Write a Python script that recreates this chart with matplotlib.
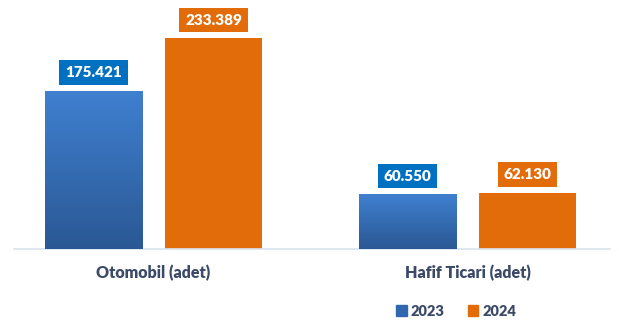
import numpy as np
import matplotlib
matplotlib.use('Agg')
import matplotlib.pyplot as plt
from matplotlib.colors import LinearSegmentedColormap
from matplotlib.patches import Patch

# data
categories = ['Otomobil (adet)', 'Hafif Ticari (adet)']
series = ['2023', '2024']
values_2023 = [175421, 60550]
values_2024 = [233389, 62130]
labels_2023 = ['175.421', '60.550']
labels_2024 = ['233.389', '62.130']

blue_top = '#3f80d0'
blue_bot = '#2b5894'
orange = '#e36c0a'
box_blue = '#0070c0'
text_col = '#3b4a68'

plt.rcParams['font.family'] = ['Lato', 'DejaVu Sans']

fig = plt.figure(figsize=(6.19, 3.25), dpi=100)
ax = fig.add_axes([14 / 619, 76 / 325, 596 / 619, 249 / 325])

x = np.arange(len(categories))
w = 0.309
off = 0.191

b1 = ax.bar(x - off, values_2023, w, color=blue_top, zorder=2)
b2 = ax.bar(x + off, values_2024, w, color=orange, zorder=2)

# gradient fill for the 2023 bars
cmap = LinearSegmentedColormap.from_list('bl', [blue_bot, blue_top])
grad = np.linspace(0, 1, 256).reshape(-1, 1)
for p in b1:
    x0, y0 = p.get_x(), p.get_y()
    im = ax.imshow(grad, extent=[x0, x0 + p.get_width(), y0, y0 + p.get_height()],
                   origin='lower', aspect='auto', cmap=cmap, zorder=3)
    im.set_clip_path(p)

def label(bars, texts, fc):
    for p, t in zip(bars, texts):
        ax.annotate(t, xy=(p.get_x() + p.get_width() / 2, p.get_height()),
                    xytext=(0, 8.5), textcoords='offset points',
                    ha='center', va='bottom', fontsize=11, fontweight='heavy',
                    color='white', zorder=5,
                    bbox=dict(boxstyle='square,pad=0.38', fc=fc, ec='none'))

label(b1, labels_2023, box_blue)
label(b2, labels_2024, orange)

ax.set_xlim(-0.4443, 1.4538)
ax.set_ylim(0, 275900)
ax.set_xticks(x)
ax.set_xticklabels(categories, fontsize=11.5, fontweight='heavy', color=text_col)
ax.tick_params(axis='x', length=0, pad=11)
ax.set_yticks([])
for s in ['top', 'right', 'left']:
    ax.spines[s].set_visible(False)
ax.spines['bottom'].set_color('#d9e3f0')
ax.spines['bottom'].set_linewidth(1.2)

handles = [Patch(color='#3068b0'), Patch(color=orange)]
leg = ax.legend(handles, series, loc='center', bbox_to_anchor=(0.7375, 0.043),
                bbox_transform=fig.transFigure, ncol=2, frameon=False,
                handlelength=0.7, handleheight=0.7, handletextpad=0.3,
                columnspacing=1.6, prop={'weight': 'heavy', 'size': 10.5})
for t in leg.get_texts():
    t.set_color(text_col)

fig.savefig('out.png', dpi=100)
